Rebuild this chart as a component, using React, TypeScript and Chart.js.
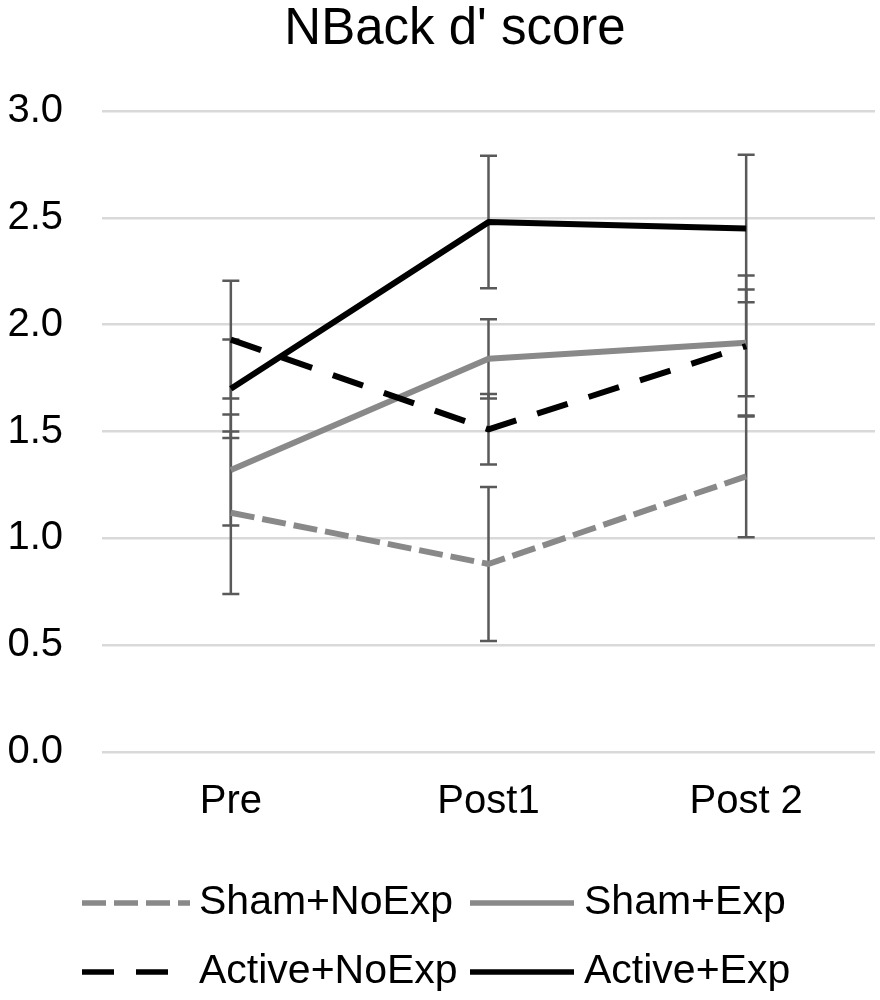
import React, { useEffect, useRef } from "react";
import { Chart, registerables } from "chart.js";

Chart.register(...registerables);

const titleText = "NBack d' score";
const categories = ["Pre", "Post1", "Post 2"];
const seriesNames = ["Sham+NoExp", "Sham+Exp", "Active+NoExp", "Active+Exp"];
const shamNoExp = [1.12, 0.88, 1.29];
const shamExp = [1.32, 1.84, 1.915];
const activeNoExp = [1.93, 1.51, 1.9];
const activeExp = [1.7, 2.48, 2.45];
const shamNoExpErr = [0.38, 0.36, 0.285];
const shamExpErr = [0.26, 0.185, 0.25];
const activeNoExpErr = [0.275, 0.165, 0.33];
const activeExpErr = [0.23, 0.31, 0.345];
const yTicks = [0, 0.5, 1.0, 1.5, 2.0, 2.5, 3.0];

const FONT = "'Liberation Sans', Arial, sans-serif";
const GRAY = "#898989";
const BLACK = "#000000";
const ERR = "#595959";

const seriesValues = [shamNoExp, shamExp, activeNoExp, activeExp];
const seriesErrors = [shamNoExpErr, shamExpErr, activeNoExpErr, activeExpErr];
const seriesColors = [GRAY, GRAY, BLACK, BLACK];
const seriesDash: number[][] = [[24, 8], [], [32, 22], []];

const errorBarPlugin = {
  id: "errorBars",
  beforeDatasetsDraw(chart: any) {
    const ctx = chart.ctx;
    const yScale = chart.scales.y;
    ctx.save();
    ctx.strokeStyle = ERR;
    ctx.lineWidth = 2.5;
    ctx.setLineDash([]);
    chart.data.datasets.forEach((ds: any, i: number) => {
      const meta = chart.getDatasetMeta(i);
      const errs = seriesErrors[i];
      meta.data.forEach((pt: any, j: number) => {
        const v = ds.data[j];
        const e = errs[j];
        const x = pt.x;
        const yt = yScale.getPixelForValue(v + e);
        const yb = yScale.getPixelForValue(v - e);
        const cap = 8.5;
        ctx.beginPath();
        ctx.moveTo(x, yt);
        ctx.lineTo(x, yb);
        ctx.moveTo(x - cap, yt);
        ctx.lineTo(x + cap, yt);
        ctx.moveTo(x - cap, yb);
        ctx.lineTo(x + cap, yb);
        ctx.stroke();
      });
    });
    ctx.restore();
  },
};

const titlePlugin = {
  id: "customTitle",
  afterDraw(chart: any) {
    const ctx = chart.ctx;
    ctx.save();
    ctx.fillStyle = "#000";
    ctx.font = `51px ${FONT}`;
    ctx.textAlign = "center";
    ctx.textBaseline = "middle";
    ctx.fillText(titleText, 455, 30);
    ctx.restore();
  },
};

const legendPlugin = {
  id: "customLegend",
  afterDraw(chart: any) {
    const ctx = chart.ctx;
    const area = chart.chartArea;
    const rowY = [area.bottom + 151, area.bottom + 220];
    const colX = [82, 470];
    const sampleLen = [108, 104];
    const textGap = [9, 10];
    ctx.save();
    chart.data.datasets.forEach((ds: any, i: number) => {
      const col = i % 2;
      const row = Math.floor(i / 2);
      const y = rowY[row];
      const x0 = colX[col];
      const x1 = x0 + sampleLen[col];
      ctx.strokeStyle = ds.borderColor;
      ctx.lineWidth = 5.5;
      ctx.lineCap = "butt";
      ctx.setLineDash(ds.borderDash || []);
      ctx.beginPath();
      ctx.moveTo(x0, y);
      ctx.lineTo(x1, y);
      ctx.stroke();
      ctx.setLineDash([]);
      ctx.fillStyle = "#000";
      ctx.font = `41px ${FONT}`;
      ctx.textAlign = "left";
      ctx.textBaseline = "middle";
      ctx.fillText(ds.label, x1 + textGap[col], y);
    });
    ctx.restore();
  },
};

export default function App() {
  const ref = useRef<HTMLCanvasElement | null>(null);

  useEffect(() => {
    if (!ref.current) return;
    const chart = new Chart(ref.current, {
      type: "line",
      data: {
        labels: categories,
        datasets: seriesValues.map((vals, i) => ({
          label: seriesNames[i],
          data: vals,
          borderColor: seriesColors[i],
          backgroundColor: seriesColors[i],
          borderWidth: 6,
          borderDash: seriesDash[i],
          borderJoinStyle: "round" as const,
          pointRadius: 0,
          pointHoverRadius: 0,
          fill: false,
          tension: 0,
          order: 4 - i,
        })),
      },
      options: {
        animation: false,
        responsive: false,
        devicePixelRatio: 1,
        layout: { padding: { left: 0, right: 5, top: 111, bottom: 148 } },
        plugins: {
          legend: { display: false },
          tooltip: { enabled: false },
          title: { display: false },
        },
        scales: {
          x: {
            type: "category",
            offset: true,
            grid: { display: false, drawTicks: false },
            border: { display: false },
            ticks: {
              color: "#000",
              font: { family: FONT, size: 40 },
              padding: 26,
            },
            afterFit: (axis: any) => {
              axis.height = 100;
            },
          },
          y: {
            min: 0,
            max: 3,
            afterBuildTicks: (axis: any) => {
              axis.ticks = yTicks.map((v) => ({ value: v }));
            },
            grid: { color: "#d9d9d9", lineWidth: 2.5, drawTicks: false },
            border: { display: false },
            ticks: {
              color: "#000",
              font: { family: FONT, size: 40 },
              padding: 39,
              callback: (v: any) => Number(v).toFixed(1),
            },
            afterFit: (axis: any) => {
              axis.width = 102;
            },
          },
        },
      },
      plugins: [errorBarPlugin, titlePlugin, legendPlugin],
    });
    return () => chart.destroy();
  }, []);

  return (
    <div style={{ position: "absolute", left: 0, top: 0, width: 880, height: 1000, background: "#fff" }}>
      <canvas ref={ref} width={880} height={1000} style={{ display: "block" }} />
    </div>
  );
}
